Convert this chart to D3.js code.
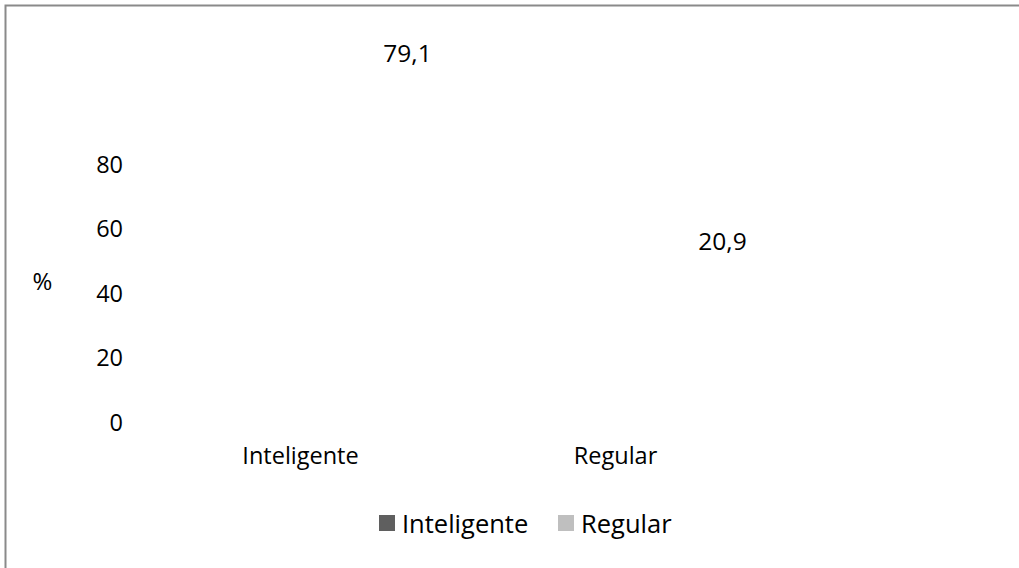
<!DOCTYPE html>
<html>
<head>
<meta charset="utf-8">
<script src="https://cdn.jsdelivr.net/npm/d3@7"></script>
<style>
  html, body { margin: 0; padding: 0; background: #ffffff; }
  svg text { font-family: "Open Sans", "DejaVu Sans", sans-serif; fill: #000; }
</style>
</head>
<body>
<svg id="chart" width="1019" height="568"></svg>
<script>
const categories = ["Inteligente", "Regular"];
const values = [79.1, 20.9];
const valueLabels = ["79,1", "20,9"];
const yTicks = [0, 20, 40, 60, 80];
const legendLabels = ["Inteligente", "Regular"];
const colors = ["#5f5f5f", "#bfbfbf"];

const svg = d3.select("#chart");

// outer frame (extends beyond the picture on the right and bottom)
svg.append("rect")
  .attr("x", 5.5).attr("y", 5.5)
  .attr("width", 1100).attr("height", 700)
  .attr("fill", "#fff")
  .attr("stroke", "#8a8a8a").attr("stroke-width", 2);

const x = d3.scaleBand().domain(categories).range([143, 773]).paddingInner(0.3).paddingOuter(0.15);
const y = d3.scaleLinear().domain([0, 100]).range([422, 99.5]);

// y axis (labels only, no line or ticks)
const yAxis = svg.append("g")
  .attr("transform", "translate(123,0)")
  .call(d3.axisLeft(y).tickValues(yTicks).tickSize(0).tickPadding(0).tickFormat(d3.format("d")));
yAxis.select(".domain").remove();
yAxis.selectAll("text")
  .attr("font-size", 23.5)
  .attr("font-family", "'Open Sans', sans-serif")
  .attr("dy", "0.36em");

// x axis labels
const xAxis = svg.append("g")
  .attr("transform", "translate(0,447)")
  .call(d3.axisBottom(x).tickSize(0).tickPadding(0));
xAxis.select(".domain").remove();
xAxis.selectAll("text")
  .attr("font-size", 23.5)
  .attr("font-family", "'Open Sans', sans-serif")
  .attr("dy", "0.71em");

// bars (not visible in the reference rendering)
svg.append("g").selectAll("rect")
  .data(values)
  .join("rect")
  .attr("x", (d, i) => x(categories[i]))
  .attr("y", d => y(d))
  .attr("width", x.bandwidth())
  .attr("height", d => y(0) - y(d))
  .attr("fill", (d, i) => colors[i])
  .attr("fill-opacity", 0);

// data labels (offset as in the 3-D original)
svg.append("g").selectAll("text")
  .data(values)
  .join("text")
  .attr("x", (d, i) => x(categories[i]) + x.bandwidth() / 2 + 107)
  .attr("y", d => y(d) - 105)
  .attr("text-anchor", "middle")
  .attr("font-size", 24.5)
  .text((d, i) => valueLabels[i]);

// y axis title
svg.append("text")
  .attr("x", 42.5).attr("y", 290)
  .attr("text-anchor", "middle")
  .attr("font-size", 24)
  .text("%");

// legend
const legendX = [379, 558];
const leg = svg.append("g").selectAll("g")
  .data(legendLabels)
  .join("g")
  .attr("transform", (d, i) => `translate(${legendX[i]},515)`);
leg.append("rect")
  .attr("width", 16).attr("height", 16)
  .attr("fill", (d, i) => colors[i]);
leg.append("text")
  .attr("x", 23).attr("y", 18)
  .attr("font-size", 25.5)
  .text(d => d);
</script>
</body>
</html>
